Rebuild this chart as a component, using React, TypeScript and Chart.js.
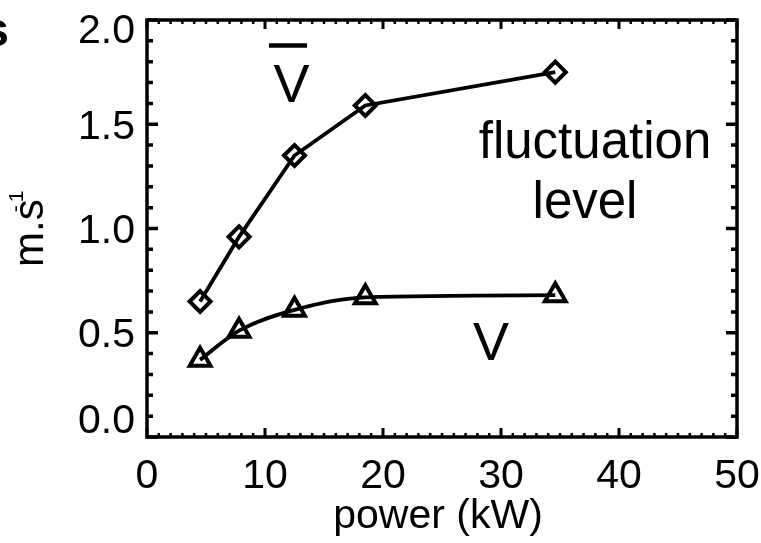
import React, { useEffect, useRef } from "react";
import { Chart, registerables } from "chart.js";

Chart.register(...registerables);

// ---- data ----
const powerKW = [4.5, 7.8, 12.5, 18.5, 34.6];
const meanVelocity = [0.65, 0.96, 1.35, 1.59, 1.75];
const fluctuationVelocity = [0.37, 0.51, 0.61, 0.67, 0.68];
const xTickValues = [0, 10, 20, 30, 40, 50];
const yTickValues = [0, 0.5, 1.0, 1.5, 2.0];
const xAxisTitle = "power (kW)";
const yAxisTitle = "m.s";
const yAxisTitleSup = ["-", "1"];
const panelLetter = "s";
const annotationFluct = ["fluctuation", "level"];

const FONT = "'Liberation Sans', Arial, Helvetica, sans-serif";

const decorPlugin = {
  id: "decor",
  afterDraw(chart: any) {
    const { ctx, chartArea: a, scales } = chart;
    const x = scales.x;
    const y = scales.y;
    ctx.save();
    ctx.strokeStyle = "#000";
    ctx.fillStyle = "#000";
    ctx.lineCap = "butt";

    // frame
    ctx.lineWidth = 3.5;
    ctx.strokeRect(a.left, a.top, a.right - a.left, a.bottom - a.top);

    // x ticks (minor every 1, major every 10)
    for (let v = 0; v <= 50; v += 1) {
      const px = x.getPixelForValue(v);
      const major = v % 10 === 0;
      const len = major ? 9 : 4;
      ctx.lineWidth = major ? 3 : 2.5;
      ctx.beginPath();
      ctx.moveTo(px, a.bottom);
      ctx.lineTo(px, a.bottom - len);
      ctx.moveTo(px, a.top);
      ctx.lineTo(px, a.top + len);
      ctx.stroke();
    }
    // y ticks (minor every 0.1, major every 0.5)
    for (let i = 0; i <= 20; i++) {
      const py = y.getPixelForValue(i / 10);
      const major = i % 5 === 0;
      const len = major ? 11 : 6;
      ctx.lineWidth = 3.5;
      ctx.beginPath();
      ctx.moveTo(a.left, py);
      ctx.lineTo(a.left + len, py);
      ctx.moveTo(a.right, py);
      ctx.lineTo(a.right - len, py);
      ctx.stroke();
    }

    // tick labels
    ctx.font = `41px ${FONT}`;
    ctx.textBaseline = "alphabetic";
    ctx.textAlign = "center";
    for (const v of xTickValues) {
      ctx.fillText(String(v), x.getPixelForValue(v), 488);
    }
    ctx.textAlign = "right";
    for (const v of yTickValues) {
      const py = y.getPixelForValue(v);
      const base = Math.min(Math.max(py + 14.5, a.top + 23), a.bottom - 4);
      ctx.fillText(v.toFixed(1), 135, base);
    }

    // x-axis title
    ctx.font = `41px ${FONT}`;
    ctx.textAlign = "center";
    ctx.fillText(xAxisTitle, (a.left + a.right) / 2 - 4, 528);

    // y-axis title (rotated) with superscript
    ctx.save();
    ctx.translate(43, 267);
    ctx.rotate(-Math.PI / 2);
    ctx.font = `42px ${FONT}`;
    ctx.textAlign = "left";
    ctx.fillText(yAxisTitle, 0, 0);
    const w = ctx.measureText(yAxisTitle).width;
    ctx.font = `21px ${FONT}`;
    ctx.fillText(yAxisTitleSup[0], w - 13, -21);
    ctx.fillText(yAxisTitleSup[1], w - 3, -20);
    ctx.restore();

    // panel letter (cut off at left edge)
    ctx.font = `bold 48px ${FONT}`;
    ctx.textAlign = "right";
    ctx.fillText(panelLetter, 9, 46);

    // V with overline (mean velocity)
    ctx.font = `54px ${FONT}`;
    ctx.textAlign = "center";
    ctx.fillText("V", 291.5, 102);
    ctx.lineWidth = 4.5;
    ctx.beginPath();
    ctx.moveTo(269, 45.5);
    ctx.lineTo(307, 45.5);
    ctx.stroke();

    // fluctuation level
    ctx.font = `51px ${FONT}`;
    ctx.fillText(annotationFluct[0], 595, 158);
    ctx.fillText(annotationFluct[1], 585, 218);

    // V (fluctuation)
    ctx.font = `54px ${FONT}`;
    ctx.fillText("V", 491, 360);

    ctx.restore();
  },
};

export default function App() {
  const canvasRef = useRef<HTMLCanvasElement | null>(null);

  useEffect(() => {
    const canvas = canvasRef.current;
    if (!canvas) return;
    const chart = new Chart(canvas, {
      type: "line",
      data: {
        datasets: [
          {
            label: "mean",
            data: powerKW.map((p, i) => ({ x: p, y: meanVelocity[i] })),
            borderColor: "#000",
            backgroundColor: "rgba(0,0,0,0)",
            borderWidth: 3.8,
            tension: 0,
            pointStyle: "rectRot",
            pointRadius: 10.5,
            pointBorderWidth: 4,
            pointBorderColor: "#000",
            pointBackgroundColor: "rgba(0,0,0,0)",
          },
          {
            label: "fluct",
            data: powerKW.map((p, i) => ({ x: p, y: fluctuationVelocity[i] })),
            borderColor: "#000",
            backgroundColor: "rgba(0,0,0,0)",
            borderWidth: 3.8,
            cubicInterpolationMode: "monotone",
            pointStyle: "triangle",
            pointRadius: 12,
            pointBorderWidth: 4,
            pointBorderColor: "#000",
            pointBackgroundColor: "rgba(0,0,0,0)",
          },
        ],
      },
      options: {
        animation: false,
        responsive: false,
        maintainAspectRatio: false,
        layout: { padding: { top: 20, right: 24, left: 0, bottom: 0 } },
        plugins: {
          legend: { display: false },
          tooltip: { enabled: false },
        },
        scales: {
          x: {
            type: "linear",
            min: 0,
            max: 50,
            afterFit: (s: any) => {
              s.height = 106;
              s.paddingLeft = 0;
              s.paddingRight = 0;
            },
            ticks: { display: false },
            grid: { display: false, drawTicks: false },
            border: { display: false },
          },
          y: {
            type: "linear",
            min: 0,
            max: 2,
            afterFit: (s: any) => {
              s.width = 147;
              s.paddingTop = 0;
              s.paddingBottom = 0;
            },
            ticks: { display: false },
            grid: { display: false, drawTicks: false },
            border: { display: false },
          },
        },
      },
      plugins: [decorPlugin],
    });
    return () => chart.destroy();
  }, []);

  return (
    <div style={{ position: "absolute", left: 0, top: 0, width: 761, height: 543, background: "#fff" }}>
      <canvas ref={canvasRef} width={761} height={543} style={{ display: "block" }} />
    </div>
  );
}
